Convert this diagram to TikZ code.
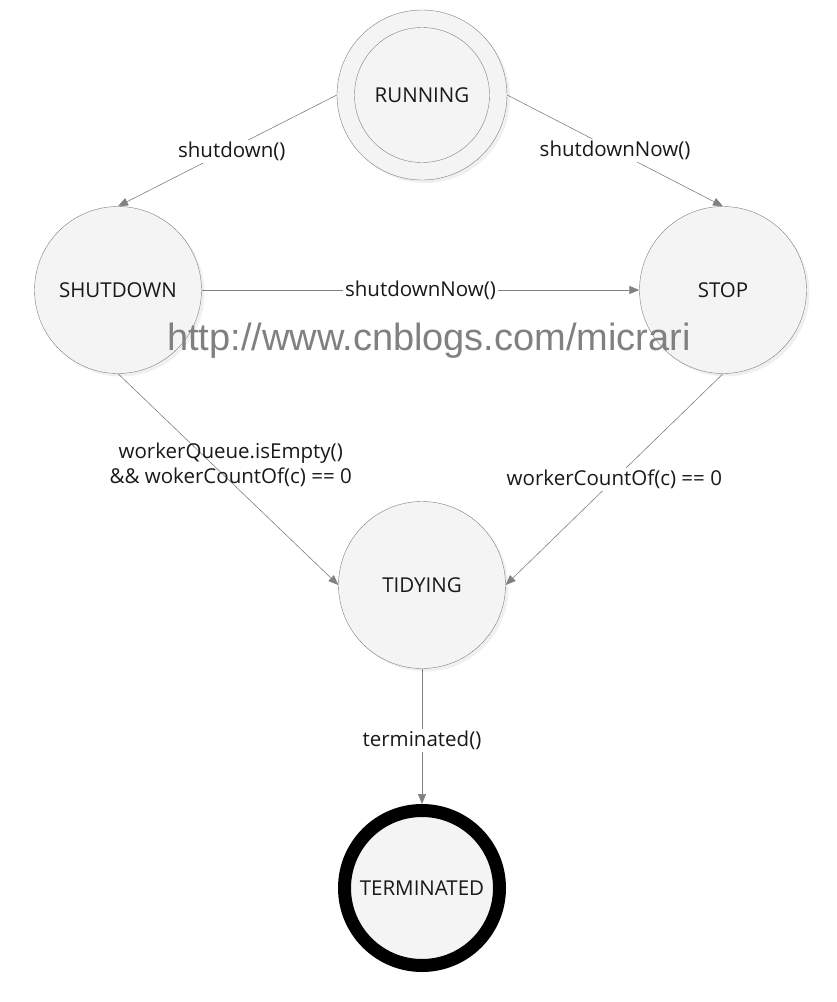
\documentclass[tikz,border=0pt]{standalone}
\usepackage{fontspec}
\setmainfont{Open Sans}
\newfontfamily\markfont{Liberation Sans}
\usetikzlibrary{positioning,arrows.meta,shadows}
\definecolor{edgegray}{RGB}{128,128,128}
\definecolor{statefill}{RGB}{244,244,244}
\definecolor{textdark}{RGB}{25,25,25}
\definecolor{markgray}{RGB}{128,128,128}
\tikzset{
  state-node/.style={circle, draw=edgegray, fill=statefill, minimum size=167pt,
    inner sep=0pt, font=\fontsize{20.5}{24}\selectfont, text=textdark,
    drop shadow={opacity=0.12, shadow xshift=3pt, shadow yshift=-3pt}},
  inner-ring/.style={circle, draw=edgegray, minimum size=135pt, inner sep=0pt,
    font=\fontsize{20.5}{24}\selectfont, text=textdark},
  final-node/.style={circle, draw=black, line width=13pt, fill=statefill,
    minimum size=155pt, inner sep=0pt, font=\fontsize{20.5}{24}\selectfont, text=textdark},
  trans-arrow/.style={-{Triangle[length=10pt, width=8pt]}, draw=edgegray, line width=0.6pt},
  trans-label/.style={fill=white, inner sep=2pt, align=center, text=textdark,
    font=\fontsize{20.5}{25}\selectfont}
}
\begin{document}
\begin{tikzpicture}[x=1pt, y=-1pt]
\useasboundingbox (0,0) rectangle (836,1002);
% states
\node[state-node, minimum size=170pt] (running) at (422,95) {};
\node[inner-ring] (runningin) at (running.center) {RUNNING};
\node[state-node] (shutdown) at (118,290) {SHUTDOWN};
\node[state-node] (stop) at (723,290) {STOP};
\node[state-node] (tidying) at (422,585) {TIDYING};
\node[final-node] (terminated) at (422,888) {TERMINATED};
% transitions
\draw[trans-arrow] (running.west) -- node[trans-label, pos=0.48, yshift=-3pt] (lshutdown) {shutdown()} (shutdown.north);
\draw[trans-arrow] (running.east) -- node[trans-label, pos=0.5] (lnowa) {shutdownNow()} (stop.north);
\draw[trans-arrow] (shutdown.east) -- node[trans-label] (lnowb) {shutdownNow()} (stop.west);
\draw[trans-arrow] (shutdown.south) -- node[trans-label, pos=0.43, xshift=18pt, fill=none] (lempty)
  {workerQueue.isEmpty()\\\&\& wokerCountOf(c) == 0} (tidying.west);
\draw[trans-arrow] (stop.south) -- node[trans-label, pos=0.5] (lcount) {workerCountOf(c) == 0} (tidying.east);
\draw[trans-arrow] (tidying.south) -- node[trans-label, pos=0.53] (lterm) {terminated()} (terminated.north);
% watermark
\node[font=\markfont\fontsize{38}{40}\selectfont, text=markgray] (mark) at (429,341) {http://www.cnblogs.com/micrari};
\end{tikzpicture}
\end{document}
